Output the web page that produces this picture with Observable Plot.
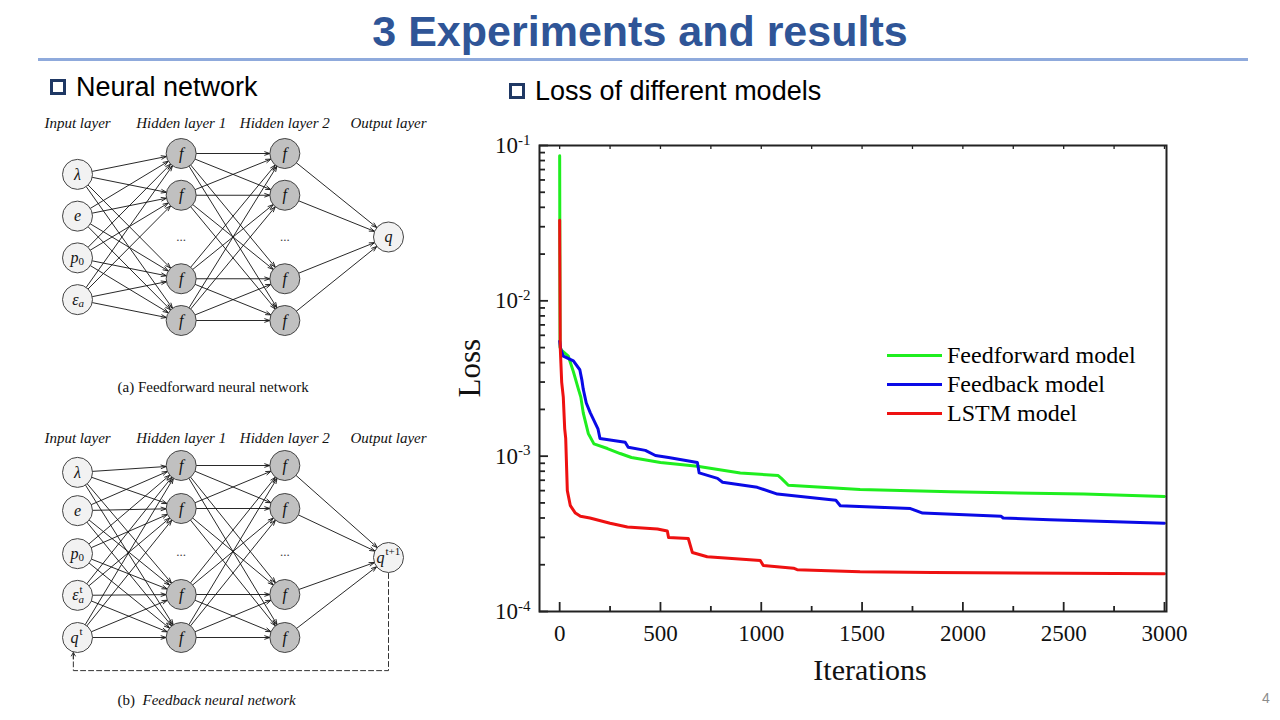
<!DOCTYPE html>
<html><head><meta charset="utf-8">
<script src="https://cdn.jsdelivr.net/npm/d3@7"></script>
<script src="https://cdn.jsdelivr.net/npm/@observablehq/plot@0.6"></script>
<style>
body{margin:0;background:#fff;}
#page{position:relative;width:1280px;height:720px;overflow:hidden;background:#fff;font-family:"Liberation Sans",Arial,sans-serif;}
.abs{position:absolute;}
#title{left:0;width:1280px;top:6px;text-align:center;font-weight:bold;font-size:43px;color:#2F5597;line-height:50px;}
#rule{left:38px;top:58px;width:1210px;height:3px;background:#8FAADC;}
.head{font-size:27px;color:#000;line-height:30px;white-space:nowrap;}
.box{display:inline-block;width:10px;height:10px;border:3px solid #1F3864;background:#fff;margin-right:10px;vertical-align:1px;}
#legend{left:887px;top:341px;font-family:"Liberation Serif","Times New Roman",serif;font-size:24px;color:#000;}
.lrow{height:29px;display:flex;align-items:center;}
.lsw{width:55px;height:3px;margin-right:5px;}
#pnum{left:1262px;top:690px;font-size:14px;color:#8c8c8c;}
</style></head><body><div id="page">
<div id="title" class="abs">3 Experiments and results</div>
<div id="rule" class="abs"></div>
<div class="abs head" style="left:50px;top:72px;"><span class="box"></span>Neural network</div>
<div class="abs head" style="left:509px;top:76px;"><span class="box"></span>Loss of different models</div>
<div id="pnum" class="abs">4</div>
</div>
<script>
// ---------------- Loss chart data ----------------
const seriesNames = ["Feedforward model", "Feedback model", "LSTM model"];
const seriesColors = ["#1fee1f", "#0a0ae6", "#ee1111"];

const ffIter = [0, 2, 10, 43, 68, 93, 105, 117, 142, 170, 237, 300, 356, 500, 683, 896, 1084, 1100, 1134, 1490, 1940, 2600, 3000];
const ffLoss = [0.086, 0.0050, 0.0048, 0.0044, 0.0035, 0.0027, 0.0024, 0.0019, 0.0014, 0.00120, 0.00112, 0.00104, 0.00098, 0.00091, 0.00086, 0.00078, 0.00075, 0.00072, 0.00065, 0.00061, 0.00059, 0.00057, 0.00055];

const fbIter = [0, 5, 18, 68, 100, 110, 117, 132, 152, 190, 200, 325, 340, 425, 475, 540, 683, 692, 783, 808, 980, 1080, 1370, 1392, 1740, 1800, 2190, 2200, 2430, 3000];
const fbLoss = [0.0055, 0.0049, 0.0044, 0.0041, 0.0036, 0.0031, 0.0027, 0.0022, 0.0019, 0.0015, 0.0013, 0.00123, 0.00114, 0.00109, 0.00101, 0.00098, 0.00091, 0.00078, 0.00072, 0.00068, 0.00063, 0.00057, 0.00052, 0.00048, 0.00046, 0.00043, 0.00041, 0.00040, 0.00039, 0.00037];

const lstmIter = [0, 3, 10, 18, 25, 30, 38, 53, 78, 103, 150, 250, 336, 485, 534, 540, 638, 658, 732, 995, 1010, 1160, 1178, 1490, 1850, 3000];
const lstmLoss = [0.033, 0.0050, 0.0030, 0.0024, 0.0015, 0.0013, 0.00060, 0.00048, 0.00043, 0.00041, 0.00040, 0.00037, 0.00035, 0.00034, 0.00033, 0.00030, 0.000295, 0.00024, 0.000225, 0.000213, 0.000198, 0.00019, 0.000186, 0.00018, 0.000178, 0.000175];

const xMajorTicks = [0, 500, 1000, 1500, 2000, 2500, 3000];
const xMinorTicks = [250, 750, 1250, 1750, 2250, 2750];
const xTopTicks = [0, 250, 500, 750, 1000, 1250, 1500, 1750, 2000, 2250, 2500, 2750, 3000];
const yMajorTicks = [1e-4, 1e-3, 1e-2, 1e-1];
const yMinorMultipliers = [2, 3, 4, 5, 6, 7, 8, 9];

const rows = (it, ls) => it.map((x, i) => ({iter: x, loss: ls[i]}));
const ffRows = rows(ffIter, ffLoss), fbRows = rows(fbIter, fbLoss), lstmRows = rows(lstmIter, lstmLoss);
const yMinorTicks = [1e-4, 1e-3, 1e-2].flatMap(d => yMinorMultipliers.map(m => +(d * m).toPrecision(3)));

const W = 740, H = 580, mL = 99, mR = 14, mT = 25, mB = 89;
const innerW = W - mL - mR, innerH = H - mT - mB;

const chart = Plot.plot({
  width: W, height: H,
  marginLeft: mL, marginRight: mR, marginTop: mT, marginBottom: mB,
  style: {fontFamily: '"Liberation Serif","Times New Roman",serif', fontSize: "23px", color: "#111", background: "transparent", overflow: "visible"},
  x: {domain: [-100, 3010]},
  y: {type: "log", domain: [1e-4, 1e-1]},
  marks: [
    Plot.line(ffRows, {x: "iter", y: "loss", stroke: seriesColors[0], strokeWidth: 3}),
    Plot.line(fbRows, {x: "iter", y: "loss", stroke: seriesColors[1], strokeWidth: 3}),
    Plot.line(lstmRows, {x: "iter", y: "loss", stroke: seriesColors[2], strokeWidth: 3}),
    // inward ticks
    Plot.ruleX(xMajorTicks, {x: d => d, insetTop: innerH - 9, stroke: "#222", strokeWidth: 1.8}),
    Plot.ruleX(xMinorTicks, {x: d => d, insetTop: innerH - 5, stroke: "#222", strokeWidth: 1.8}),
    Plot.ruleX(xTopTicks, {x: d => d, insetBottom: innerH - 4, stroke: "#222", strokeWidth: 1.3}),
    Plot.ruleY(yMajorTicks, {y: d => d, insetRight: innerW - 9, stroke: "#222", strokeWidth: 1.8}),
    Plot.ruleY(yMinorTicks, {y: d => d, insetRight: innerW - 6, stroke: "#222", strokeWidth: 1.8}),
    // tick labels
    Plot.axisX(xMajorTicks, {anchor: "bottom", tickSize: 0, tickPadding: 13, label: null, fontSize: 23, tickFormat: d => String(d)}),
    Plot.axisY(yMajorTicks, {anchor: "left", tickSize: 0, tickPadding: 9, label: null, fontSize: 23,
      tickFormat: d => "10^" + Math.round(Math.log10(d))}),
    Plot.frame({stroke: "#222", strokeWidth: 2}),
    Plot.text(["Iterations"], {text: d => d, frameAnchor: "bottom", dx: 17, dy: 59, fontSize: 30, lineAnchor: "middle"}),
    Plot.text(["Loss"], {text: d => d, frameAnchor: "left", dx: -69, dy: 19, rotate: -90, fontSize: 31, lineAnchor: "middle"})
  ]
});
d3.select(chart).selectAll('g[aria-label="y-axis tick label"] text').each(function () {
  const t = d3.select(this), s = t.text();
  if (!s.includes("^")) return;
  const [base, exp] = s.split("^");
  t.text(base);
  t.append("tspan").attr("dy", "-0.55em").attr("font-size", "15px").text(exp);
});
chart.style.position = "absolute"; chart.style.left = "440px"; chart.style.top = "120px";
document.getElementById("page").appendChild(chart);

// legend
const legend = document.createElement("div");
legend.id = "legend"; legend.className = "abs";
seriesNames.forEach((n, i) => {
  const r = document.createElement("div"); r.className = "lrow";
  r.innerHTML = `<div class="lsw" style="background:${seriesColors[i]}"></div><span>${n}</span>`;
  legend.appendChild(r);
});
document.getElementById("page").appendChild(legend);

// ---------------- Network diagrams ----------------
const layerNames = ["Input layer", "Hidden layer 1", "Hidden layer 2", "Output layer"];
const hiddenRows = [0, 1, 3, 4];
const hiddenLabel = "f";
const inputsA = ["λ", "e", "p", "ε"];
const inputSubA = ["", "", "0", "a"];
const inputSupA = ["", "", "", ""];
const inputRowsA = [0.5, 1.5, 2.5, 3.5];
const outputA = "q", outputSupA = "", outputRowA = 2;
const inputsB = ["λ", "e", "p", "ε", "q"];
const inputSubB = ["", "", "0", "a", ""];
const inputSupB = ["", "", "", "t", "t"];
const inputRowsB = [0.16, 1.05, 2.05, 3.02, 4];
const outputB = "q", outputSupB = "t+1", outputRowB = 2.14;

function network({inputs, inputSub, inputSup, inputRows, output, outputSup, outputRow, yRange, top, labelDy, capA, capB, capDy, feedback}) {
  const nodes = [
    ...inputs.map((t, i) => ({layer: 0, row: inputRows[i], label: t, sub: inputSub[i], sup: inputSup[i], fill: "#f2f2f2"})),
    ...hiddenRows.map(r => ({layer: 1, row: r, label: hiddenLabel, sub: "", sup: "", fill: "#c0c0c0"})),
    ...hiddenRows.map(r => ({layer: 2, row: r, label: hiddenLabel, sub: "", sup: "", fill: "#c0c0c0"})),
    {layer: 3, row: outputRow, label: output, sub: "", sup: outputSup, fill: "#f2f2f2"}
  ];
  nodes.forEach(n => { n.wide = n.sup.length > 1; n.scripted = !!(n.sub || n.sup); });
  const byLayer = l => nodes.filter(n => n.layer === l);
  const edges = [];
  for (let l = 0; l < 3; l++) for (const a of byLayer(l)) for (const b of byLayer(l + 1)) edges.push({a, b});
  const marks = [
    Plot.arrow(edges, {x1: d => d.a.layer, y1: d => d.a.row, x2: d => d.b.layer, y2: d => d.b.row,
      insetStart: 15, insetEnd: 15, headLength: 9, headAngle: 38, stroke: "#111", strokeWidth: 0.9})
  ];
  if (feedback) {
    marks.push(Plot.line(feedback, {x: "x", y: "y", stroke: "#333", strokeWidth: 1, strokeDasharray: "5,3"}));
    const last = feedback[feedback.length - 1];
    marks.push(Plot.arrow([last], {x1: "x", y1: d => d.y + 0.5, x2: "x", y2: "y", insetEnd: 15, headLength: 6, stroke: "#333", strokeWidth: 1}));
  }
  marks.push(
    Plot.dot(nodes, {x: "layer", y: "row", r: 15, fill: "fill", stroke: "#444", strokeWidth: 1}),
    Plot.text(nodes.filter(n => !n.scripted), {x: "layer", y: "row", text: "label", fontStyle: "italic", fontSize: 16})
  );
  for (const wide of [false, true]) {
    const base = nodes.filter(n => n.scripted && n.wide === wide);
    if (!base.length) continue;
    const dx = wide ? -4 : 1;
    marks.push(Plot.text(base, {x: "layer", y: "row", text: "label", textAnchor: "end", dx, fontStyle: "italic", fontSize: 16}));
    for (const italic of [true, false]) {
      const subs = base.filter(n => n.sub && /^[a-z]$/.test(n.sub) === italic);
      if (subs.length) marks.push(Plot.text(subs, {x: "layer", y: "row", text: "sub", textAnchor: "start", dx, dy: 4, fontSize: 11, fontStyle: italic ? "italic" : "normal"}));
    }
    const sups = base.filter(n => n.sup);
    if (sups.length) marks.push(Plot.text(sups, {x: "layer", y: "row", text: "sup", textAnchor: "start", dx: dx + 1, dy: -6, fontSize: 11}));
  }
  marks.push(
    Plot.text([1, 2], {x: d => d, y: 2, text: d => "...", fontSize: 13, fill: "#444"}),
    Plot.text(layerNames, {x: (d, i) => i, text: d => d, frameAnchor: "top", lineAnchor: "middle", dy: labelDy, fontStyle: "italic", fontSize: 15}),
    Plot.text([capA], {text: d => d, frameAnchor: "bottom-left", lineAnchor: "middle", dx: 87, dy: capDy, textAnchor: "start", fontSize: 15})
  );
  if (capB) marks.push(Plot.text([capB], {text: d => d, frameAnchor: "bottom-left", lineAnchor: "middle", dx: 112, dy: capDy, textAnchor: "start", fontSize: 15, fontStyle: "italic"}));
  const svg = Plot.plot({
    width: 410, height: 300, margin: 0,
    style: {fontFamily: '"Liberation Serif","Times New Roman",serif', color: "#111", background: "transparent", overflow: "visible"},
    x: {domain: [0, 3], range: [47, 358], axis: null},
    y: {domain: [0, 4], range: yRange, axis: null},
    marks
  });
  svg.style.position = "absolute"; svg.style.left = "30px"; svg.style.top = top + "px";
  document.getElementById("page").appendChild(svg);
}

network({inputs: inputsA, inputSub: inputSubA, inputSup: inputSupA, inputRows: inputRowsA, output: outputA, outputSup: outputSupA, outputRow: outputRowA,
  yRange: [43, 210], top: 110, labelDy: 13, capA: "(a) Feedforward neural network", capB: null, capDy: -23});
const feedbackPath = [{x: 3, y: outputRowB}, {x: 3, y: 4.77}, {x: -0.04, y: 4.77}, {x: -0.04, y: 4}];
network({inputs: inputsB, inputSub: inputSubB, inputSup: inputSupB, inputRows: inputRowsB, output: outputB, outputSup: outputSupB, outputRow: outputRowB,
  yRange: [45, 217], top: 420, labelDy: 18, capA: "(b)", capB: "Feedback neural network", capDy: -20, feedback: feedbackPath});
</script>
</body></html>
